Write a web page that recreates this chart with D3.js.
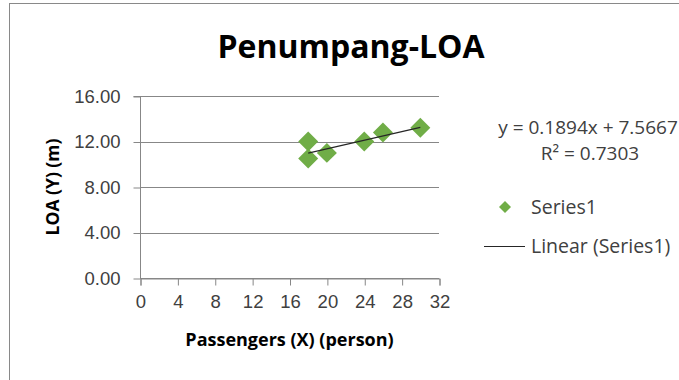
<!DOCTYPE html>
<html>
<head>
<meta charset="utf-8">
<script src="https://cdn.jsdelivr.net/npm/d3@7"></script>
<style>
  html, body { margin: 0; padding: 0; background: #fff; }
  svg { display: block; font-family: "Open Sans", "Noto Sans", sans-serif; }
</style>
</head>
<body>
<svg id="chart" width="679" height="380"></svg>
<script>
// Passengers vs. length overall (LOA)
const passengers = [18, 18, 20, 24, 26, 30];
const loa = [12.0, 10.5, 11.0, 12.0, 12.8, 13.2];
const xTicks = [0, 4, 8, 12, 16, 20, 24, 28, 32];
const yTicks = [0, 4, 8, 12, 16];
const trendSlope = 0.1894;
const trendIntercept = 7.5667;
const rSquared = 0.7303;

const W = 679, H = 380;
const plot = { left: 140, right: 439, top: 96, bottom: 278 };
const green = "#70ad47";
const textColor = "#404040";

const svg = d3.select("#chart");

// outer chart frame
svg.append("rect")
  .attr("x", 9.5).attr("y", 3.5)
  .attr("width", W + 20).attr("height", H + 20)
  .attr("fill", "#fff").attr("stroke", "#898989").attr("stroke-width", 1);

const x = d3.scaleLinear().domain([0, 32]).range([plot.left, plot.right]);
const y = d3.scaleLinear().domain([0, 16]).range([plot.bottom, plot.top]);

// horizontal gridlines
svg.append("g")
  .selectAll("line")
  .data(yTicks)
  .join("line")
  .attr("x1", plot.left).attr("x2", plot.right)
  .attr("y1", d => Math.round(y(d)) + 0.5).attr("y2", d => Math.round(y(d)) + 0.5)
  .attr("stroke", "#878787").attr("stroke-width", 1);

// y axis
const yAxis = svg.append("g")
  .attr("transform", `translate(${plot.left + 0.5},0.5)`)
  .call(d3.axisLeft(y).tickValues(yTicks).tickFormat(d3.format(".2f")).tickSize(7).tickPadding(13));
yAxis.select(".domain").attr("stroke", "#878787").attr("d", `M-7,${Math.round(y(16))}H0V${Math.round(y(0))}`);
yAxis.selectAll(".tick line").attr("stroke", "#878787");
yAxis.selectAll(".tick text")
  .attr("font-size", 18.5).attr("fill", textColor).attr("font-family", null);

// x axis
const xAxis = svg.append("g")
  .attr("transform", `translate(0.5,${Math.round(y(0)) + 0.5})`)
  .call(d3.axisBottom(x).tickValues(xTicks).tickSize(7).tickPadding(9));
xAxis.select(".domain").attr("stroke", "#878787");
xAxis.selectAll(".tick line").attr("stroke", "#878787");
xAxis.selectAll(".tick text")
  .attr("font-size", 18.5).attr("fill", textColor).attr("font-family", null);

// scatter points as diamonds
const diamond = d3.symbol().type(d3.symbolSquare).size(200);
svg.append("g")
  .selectAll("path")
  .data(passengers.map((p, i) => [p, loa[i]]))
  .join("path")
  .attr("d", diamond)
  .attr("transform", d => `translate(${x(d[0])},${y(d[1])}) rotate(45)`)
  .attr("fill", green);

// linear trendline from the fitted equation
const xMin = d3.min(passengers), xMax = d3.max(passengers);
svg.append("line")
  .attr("x1", x(xMin)).attr("y1", y(trendSlope * xMin + trendIntercept))
  .attr("x2", x(xMax)).attr("y2", y(trendSlope * xMax + trendIntercept))
  .attr("stroke", "#262626").attr("stroke-width", 1.2);

// title
svg.append("text")
  .attr("x", 351).attr("y", 58)
  .attr("text-anchor", "middle")
  .attr("font-size", 32).attr("font-weight", "bold").attr("fill", "#000")
  .text("Penumpang-LOA");

// axis titles
svg.append("text")
  .attr("x", (plot.left + plot.right) / 2).attr("y", 346)
  .attr("text-anchor", "middle")
  .attr("font-size", 18).attr("font-weight", "bold").attr("fill", "#000")
  .text("Passengers (X) (person)");

svg.append("text")
  .attr("transform", `translate(59,${(plot.top + plot.bottom) / 2}) rotate(-90)`)
  .attr("text-anchor", "middle")
  .attr("font-size", 17.5).attr("font-weight", "bold").attr("fill", "#000")
  .text("LOA (Y) (m)");

// trendline equation label
const eq = svg.append("text")
  .attr("x", 588).attr("y", 134)
  .attr("text-anchor", "middle")
  .attr("font-size", 19).attr("fill", textColor);
eq.append("tspan").attr("x", 588).attr("dy", 0)
  .text(`y = ${trendSlope}x + ${trendIntercept}`);
eq.append("tspan").attr("x", 590).attr("dy", 26)
  .text(`R² = ${rSquared}`);

// legend
const legend = svg.append("g");
legend.append("path")
  .attr("d", d3.symbol().type(d3.symbolSquare).size(72))
  .attr("transform", "translate(505,207) rotate(45)")
  .attr("fill", green);
legend.append("text")
  .attr("x", 531).attr("y", 213.5)
  .attr("font-size", 19.5).attr("fill", textColor)
  .text("Series1");
legend.append("line")
  .attr("x1", 484).attr("x2", 525).attr("y1", 246.5).attr("y2", 246.5)
  .attr("stroke", "#262626").attr("stroke-width", 1.2);
legend.append("text")
  .attr("x", 531).attr("y", 253)
  .attr("font-size", 19.5).attr("fill", textColor)
  .text("Linear (Series1)");
</script>
</body>
</html>
